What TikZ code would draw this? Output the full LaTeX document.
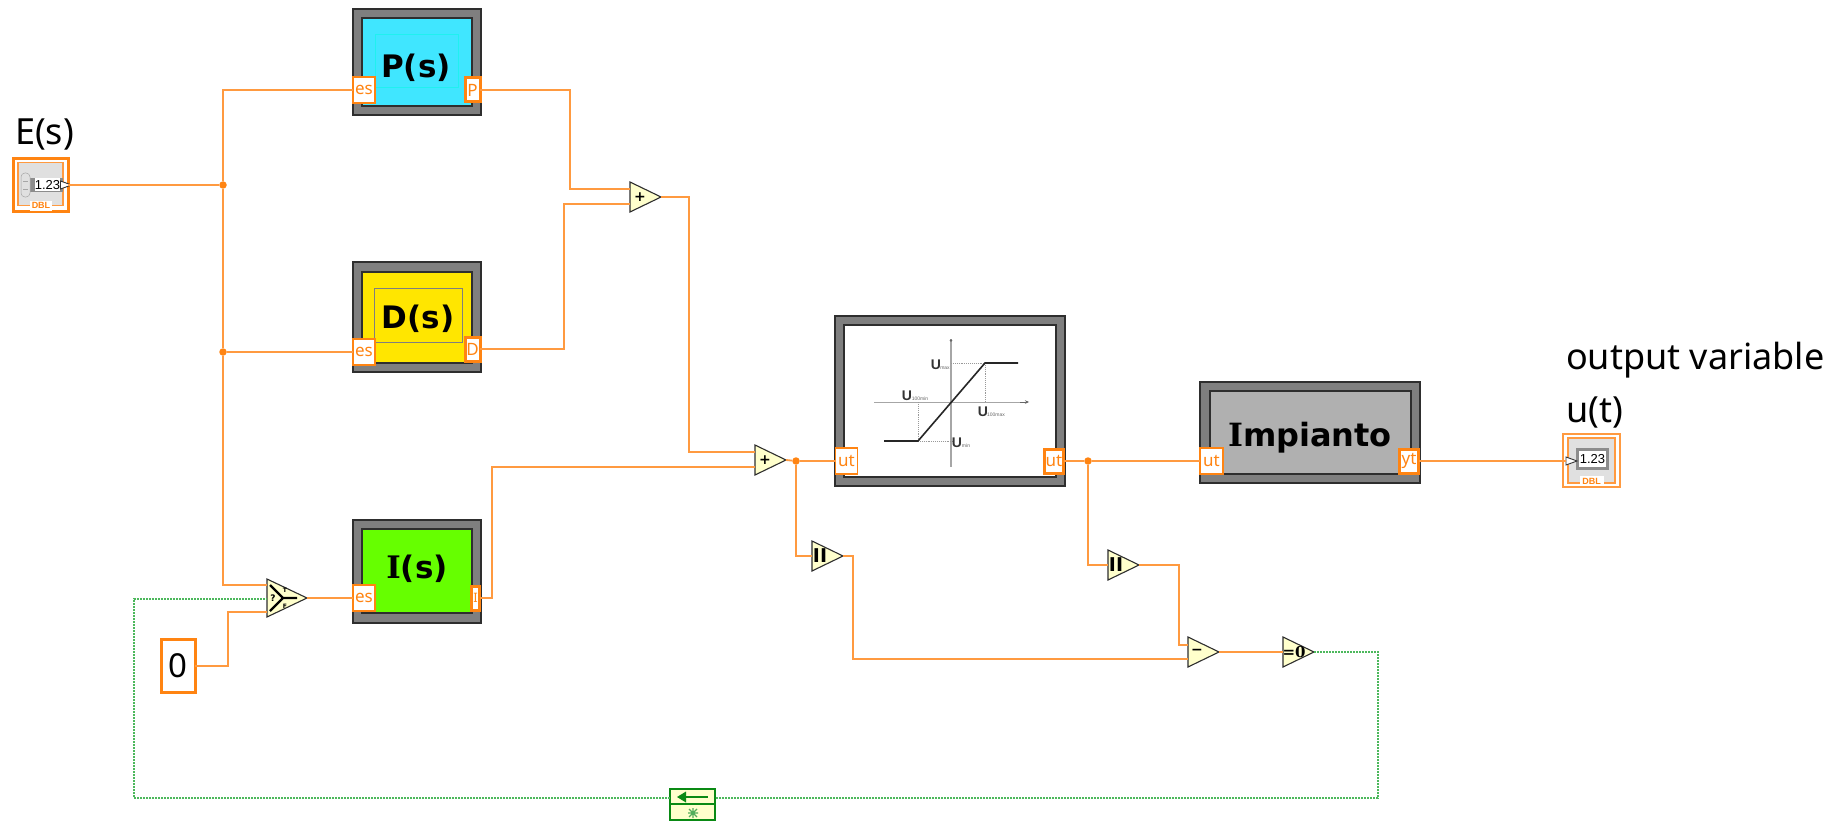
\documentclass[tikz,border=0pt]{standalone}
\usepackage{fontspec}
\setmainfont{Noto Sans}
\newfontfamily\blockfont{DejaVu Sans}[BoldFont={DejaVu Sans Bold}]
\newfontfamily\blockserif{DejaVu Serif}[BoldFont={DejaVu Serif Bold}]
\newfontfamily\numfont{Liberation Sans}
\usetikzlibrary{shapes.geometric,arrows.meta}
\definecolor{wire}{HTML}{FF9A40}
\definecolor{term}{HTML}{FF8412}
\definecolor{frameg}{HTML}{7F7F7F}
\definecolor{framed}{HTML}{2E2E2E}
\definecolor{prim}{HTML}{FFFFCC}
\definecolor{bool}{HTML}{4CB85C}
\definecolor{boold}{HTML}{0A8A14}
\definecolor{indic}{HTML}{E0E0E0}
\definecolor{pcyan}{HTML}{40E6FF}
\definecolor{pcyanb}{HTML}{20F0F0}
\definecolor{dyel}{HTML}{FFE600}
\definecolor{igreen}{HTML}{66FF00}
\definecolor{mgray}{HTML}{B0B0B0}
\tikzset{
  box/.style={rectangle,inner sep=0pt,outer sep=0pt},
  outerframe/.style={box,fill=frameg,draw=framed,line width=1.2pt},
  innerframe/.style={box,draw=framed,line width=1.2pt},
  blocktext/.style={box,font=\blockfont\bfseries\fontsize{31}{34}\selectfont,text=black},
  tin/.style={box,fill=white,draw=term,line width=1.4pt,text=term,font=\fontsize{17}{19}\selectfont},
  tout/.style={box,fill=white,draw=term,line width=3pt,text=term,font=\fontsize{17}{19}\selectfont},
  wireline/.style={draw=wire,line width=1.8pt},
  boolline/.style={draw=bool,line width=1.5pt,dash pattern=on 1.6pt off 1.4pt},
  dot/.style={circle,fill=term,inner sep=0pt,minimum size=7.5pt},
  tri/.style={isosceles triangle,isosceles triangle apex angle=50,isosceles triangle stretches,
    shape border rotate=0,minimum width=30pt,minimum height=31pt,inner sep=0pt,outer sep=0pt,
    anchor=lower side,fill=prim,draw=framed,line width=1.1pt},
  glyph/.style={box,text=black,font=\blockfont\bfseries\fontsize{14}{15}\selectfont},
  barglyph/.style={box,text=black,font=\blockfont\bfseries\fontsize{19}{20}\selectfont},
  labeltext/.style={box,anchor=base west,text=black,font=\fontsize{36}{40}\selectfont},
  numbox/.style={box,fill=white,font=\numfont\fontsize{13}{14}\selectfont,text=black},
  dbl/.style={box,fill=white,text=term,font=\numfont\bfseries\fontsize{9}{10}\selectfont},
  satlabel/.style={box,font=\numfont\bfseries\fontsize{14}{15}\selectfont,text=black!80},
  satsub/.style={box,font=\numfont\fontsize{5}{6}\selectfont,text=black!60},
  tip/.style={isosceles triangle,isosceles triangle apex angle=70,isosceles triangle stretches,minimum width=8pt,minimum height=11pt,inner sep=0pt,outer sep=0pt,anchor=lower side,fill=white,draw=black!80,line width=.9pt},
}
\begin{document}
\begin{tikzpicture}[x=1pt,y=-1pt]
\useasboundingbox (0,0) rectangle (1843,821);
% ---- P block
\node[outerframe,minimum width=128pt,minimum height=106pt] (pf) at (417,62) {};
\node[innerframe,fill=pcyan,minimum width=110pt,minimum height=88pt] (pi) at (417,62) {};
\node[box,draw=pcyanb,line width=1pt,minimum width=83pt,minimum height=53pt] (pb) at (416.5,61.5) {};
\node[blocktext] (pt) at (416,68) {P(s)};
\node[tin,minimum width=22pt,minimum height=26pt] (pes) at (364,90) {es};
\node[tout,minimum width=15pt,minimum height=24pt] (pp) at (472.5,90) {P};
% ---- D block
\node[outerframe,minimum width=128pt,minimum height=110pt] (df) at (417,317) {};
\node[innerframe,fill=dyel,minimum width=110pt,minimum height=91pt] (di) at (417,317.5) {};
\node[box,draw=frameg,line width=1pt,minimum width=88pt,minimum height=54pt] (db) at (418,315) {};
\node[blocktext] (dt) at (418,319) {D(s)};
\node[tin,minimum width=22pt,minimum height=26pt] (des) at (364,352) {es};
\node[tout,minimum width=15pt,minimum height=24pt] (dd) at (472.5,349) {D};
% ---- I block
\node[outerframe,minimum width=128pt,minimum height=103pt] (if) at (417,571.5) {};
\node[innerframe,fill=igreen,minimum width=110pt,minimum height=84pt] (ii) at (417,571) {};
\node[blocktext] (it) at (417,569) {{\blockserif\bfseries I}(s)};
\node[tin,minimum width=22pt,minimum height=26pt] (ies) at (364,598) {es};
\node[tout,minimum width=8pt,minimum height=24pt,font=\fontsize{13}{15}\selectfont] (ipin) at (475.5,598) {I};
% ---- saturation block
\node[outerframe,minimum width=230pt,minimum height=170pt] (sf) at (950,401) {};
\node[innerframe,fill=white,minimum width=212pt,minimum height=152pt] (si) at (950,401) {};
\coordinate (axl) at (874,402); \coordinate (axr) at (1029,402);
\coordinate (ayt) at (951,339); \coordinate (ayb) at (951,467);
\draw[black!35,line width=1pt] (axl) -- (1022,402);
\draw[black!35,line width=1.2pt] (ayt) -- (ayb);
\draw[black!60,-{Stealth[length=4pt,width=3.5pt]},line width=.6pt] (1020,402) -- (axr);
\fill[black!60] (951,340.5) circle (1.3pt);
\draw[black!40,densely dotted,line width=.9pt] (918,441) -- (918,402) (918,441) -- (953,441) (951,363) -- (985,363) (985,363) -- (985,402);
\draw[black!85,line width=1.6pt] (884,441) -- (918,441) -- (985,363) -- (1018,363);
\node[satlabel] (u1) at (936,365) {U};
\node[satsub] (u1s) at (945,368) {max};
\node[satlabel] (u2) at (907,396) {U};
\node[satsub] (u2s) at (920,399) {100min};
\node[satlabel] (u3) at (983,412) {U};
\node[satsub] (u3s) at (996,415) {100max};
\node[satlabel] (u4) at (957,443) {U};
\node[satsub] (u4s) at (966,446) {min};
\node[tin,minimum width=22pt,minimum height=26pt] (sin) at (846.5,461) {ut};
\node[tout,minimum width=19pt,minimum height=24pt] (sout) at (1054,461) {ut};
% ---- plant block
\node[outerframe,minimum width=220pt,minimum height=101pt] (mf) at (1310,432.5) {};
\node[innerframe,fill=mgray,minimum width=201pt,minimum height=83pt] (mi) at (1310.5,432.5) {};
\node[blocktext,font=\blockfont\bfseries\fontsize{32}{35}\selectfont] (mt) at (1310,438) {{\blockserif\bfseries I}mpianto};
\node[tin,minimum width=23pt,minimum height=26pt] (mut) at (1211.5,461) {ut};
\node[tout,minimum width=19pt,minimum height=24pt] (myt) at (1409,461) {yt};
% ---- primitives
\node[tri] (add1) at (630,197) {};
\node[glyph] (add1g) at (640,197) {+};
\node[tri] (add2) at (755,460) {};
\node[glyph] (add2g) at (765,460) {+};
\node[tri,minimum height=40pt,minimum width=38pt] (sel) at (267,598) {};
\draw[black,line width=2.4pt] (270,585) -- (283,598) -- (270,611) (283,598) -- (297,598);
\node[box,font=\blockfont\bfseries\fontsize{9}{10}\selectfont] (selq) at (273,598) {?};
\node[box,font=\blockfont\bfseries\fontsize{6}{7}\selectfont] (selt) at (285,590) {T};
\node[box,font=\blockfont\bfseries\fontsize{6}{7}\selectfont] (self) at (285,606) {F};
\node[tri] (eq1) at (812,556) {};
\node[barglyph] (eq1g) at (820,556) {II};
\node[tri] (eq2) at (1108,565) {};
\node[barglyph] (eq2g) at (1116,565) {II};
\node[tri] (sub) at (1188,652) {};
\node[glyph] (subg) at (1197,652) {−};
\node[tri] (zero) at (1283,652) {};
\node[glyph,font=\blockserif\bfseries\fontsize{15}{16}\selectfont] (zerog) at (1294,652) {=0};
% ---- constant
\node[box,fill=white,draw=term,line width=3pt,minimum width=34pt,minimum height=53pt,font=\fontsize{33}{36}\selectfont] (zc) at (178,666) {0};
% ---- feedback node
\node[box,fill=prim,draw=boold,line width=2.4pt,minimum width=45pt,minimum height=31pt] (fb) at (692.5,804.5) {};
\draw[boold,line width=2pt] (670,804) -- (715,804);
\draw[boold,line width=2.6pt] (680,797) -- (708,797);
\fill[boold] (677,797) -- (686,791.5) -- (686,802.5) -- cycle;
\draw[boold!70!white,line width=1.1pt] (693,808) -- (693,818) (688,813) -- (698,813) (689,809) -- (697,817) (697,809) -- (689,817);
% ---- indicators
\node[box,fill=white,draw=term,line width=3pt,minimum width=55pt,minimum height=52pt] (ein) at (40.5,185) {};
\node[box,fill=indic,draw=wire,line width=1.3pt,minimum width=45pt,minimum height=43pt] (einb) at (40.5,184) {};
\fill[black!45] (26,178) rectangle (63,192);
\fill[black!12,draw=black!35,line width=.5pt,rounded corners=4pt] (21,173) rectangle (30,197);
\draw[black!35,line width=.8pt] (23,181) -- (28,181) (23,189) -- (28,189);
\node[numbox,minimum width=25pt,minimum height=13pt] (e123) at (47.5,185) {1.23};
\node[dbl,minimum width=22pt,minimum height=10pt] (edbl) at (41,205.5) {DBL};
\node[tip] (etip) at (60.5,185) {};
\node[box,fill=white,draw=wire,line width=1.4pt,minimum width=57pt,minimum height=53pt] (oin) at (1591.5,460.5) {};
\node[box,fill=indic,draw=wire,line width=1.4pt,minimum width=47pt,minimum height=45pt] (oinb) at (1591.5,460.5) {};
\node[box,fill=white,draw=black!45,line width=2.5pt,minimum width=30pt,minimum height=19pt] (o123b) at (1592.5,459) {};
\node[numbox,minimum width=24pt,minimum height=13pt] (o123) at (1592.5,459) {1.23};
\node[dbl,minimum width=24pt,minimum height=10pt] (odbl) at (1591.5,481) {DBL};
\node[tip] (otip) at (1566,461) {};
% ---- junctions
\node[dot] (j1) at (223,185) {};
\node[dot] (j2) at (223,352) {};
\node[dot] (j3) at (796,461) {};
\node[dot] (j4) at (1088,461) {};
% ---- pins
\coordinate (a1a) at (630,189); \coordinate (a1b) at (630,204);
\coordinate (a2a) at (755,452); \coordinate (a2b) at (755,467);
\coordinate (sa) at (267,585); \coordinate (sb) at (267,599); \coordinate (sc) at (267,612);
\coordinate (suba) at (1188,645); \coordinate (subb) at (1188,659);
\coordinate (gtr) at (1378,798); \coordinate (gbl) at (134,798);
\coordinate (fbr) at (715,798); \coordinate (fbl) at (670,798);
% ---- wires
\draw[wireline] (ein.east) -- (j1);
\draw[wireline] (j1) |- (pes.west);
\draw[wireline] (j1) -- (j2);
\draw[wireline] (j2) -- (des.west);
\draw[wireline] (j2) |- (sa);
\draw[wireline] (sel.apex) -- (ies.west);
\draw[wireline] (zc.east) -- (228,666) -- (228,612) -- (sc);
\draw[wireline] (pp.east) -- (570,90) -- (570,189) -- (a1a);
\draw[wireline] (dd.east) -- (564,349) -- (564,204) -- (a1b);
\draw[wireline] (add1.apex) -- (689,197) -- (689,452) -- (a2a);
\draw[wireline] (ipin.east) -- (492,598) -- (492,467) -- (a2b);
\draw[wireline] (add2.apex) -- (j3);
\draw[wireline] (j3) -- (sin.west);
\draw[wireline] (j3) |- (eq1.lower side);
\draw[wireline] (eq1.apex) -- (853,556) -- (853,659) -- (subb);
\draw[wireline] (sout.east) -- (j4);
\draw[wireline] (j4) -- (mut.west);
\draw[wireline] (j4) |- (eq2.lower side);
\draw[wireline] (eq2.apex) -- (1179,565) -- (1179,645) -- (suba);
\draw[wireline] (sub.apex) -- (zero.lower side);
\draw[wireline] (myt.east) -- (otip.lower side);
\draw[boolline] (zero.apex) -- (1378,652) -- (gtr) -- (fbr);
\draw[boolline] (fbl) -- (gbl) -- (134,599) -- (sb);
% ---- labels
\node[labeltext] (le) at (15,145) {E(s)};
\node[labeltext] (lo) at (1566,369) {output variable};
\node[labeltext] (lu) at (1566,422) {u(t)};
\end{tikzpicture}
\end{document}
